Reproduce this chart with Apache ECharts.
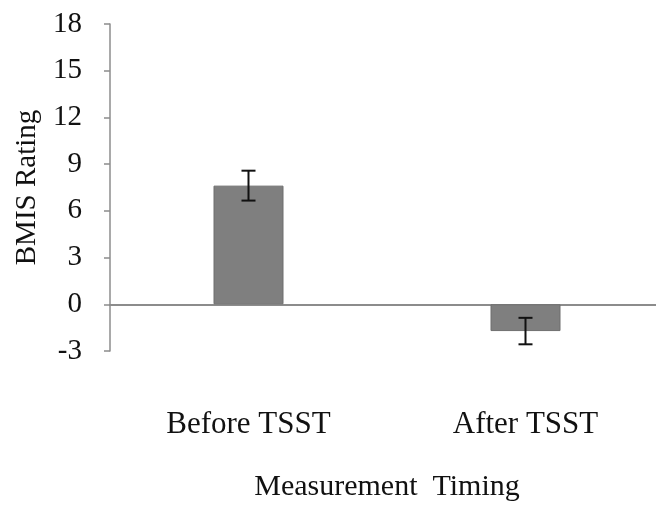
<!DOCTYPE html>
<html>
<head>
<meta charset="utf-8">
<style>html,body{margin:0;padding:0;background:#fff;}#c{width:656px;height:508px;}</style>
<script src="https://cdn.jsdelivr.net/npm/echarts@6/dist/echarts.min.js"></script>
</head>
<body>
<div id="c"></div>
<script>
var categories = ['Before TSST', 'After TSST'];
var means = [7.62, -1.72];
var errors = [0.96, 0.85];
var yTicks = [-3, 0, 3, 6, 9, 12, 15, 18];

var font = 'Liberation Serif, Times New Roman, serif';
var chart = echarts.init(document.getElementById('c'));
var errData = means.map(function (m, i) { return [i, m - errors[i], m + errors[i]]; });

chart.setOption({
  backgroundColor: '#ffffff',
  animation: false,
  grid: { left: 110, width: 554, top: 24, bottom: 157, containLabel: false, outerBoundsMode: 'none' },
  xAxis: [{
    type: 'category',
    data: categories,
    position: 'bottom',
    axisLine: { show: false, onZero: false },
    axisTick: { show: false },
    axisLabel: { margin: 58, fontFamily: font, fontSize: 31, color: '#111' },
    name: 'Measurement  Timing',
    nameLocation: 'middle',
    nameGap: 121,
    nameTextStyle: { fontFamily: font, fontSize: 30, color: '#111' }
  }, {
    type: 'category',
    data: categories,
    axisLine: { show: true, onZero: true, lineStyle: { color: '#8c8c8c', width: 2 } },
    axisTick: { show: false },
    axisLabel: { show: false }
  }],
  yAxis: {
    type: 'value',
    min: -3, max: 18, interval: 3,
    axisLine: { show: true, lineStyle: { color: '#8c8c8c', width: 1.5 } },
    axisTick: { show: true, length: 6, lineStyle: { color: '#8c8c8c', width: 1.5 } },
    splitLine: { show: false },
    axisLabel: { margin: 28, fontFamily: font, fontSize: 29, color: '#111',
      formatter: function (v) { return yTicks.indexOf(v) >= 0 ? String(v) : ''; } },
    name: 'BMIS Rating',
    nameLocation: 'middle',
    nameGap: 68,
    nameTextStyle: { fontFamily: font, fontSize: 29, color: '#111' }
  },
  series: [{
    type: 'bar',
    xAxisIndex: 0,
    data: means,
    barWidth: 70,
    itemStyle: { color: '#7f7f7f', borderColor: '#6f6f6f', borderWidth: 1 }
  }, {
    type: 'custom',
    xAxisIndex: 0,
    data: errData,
    z: 10,
    renderItem: function (params, api) {
      var lo = api.coord([api.value(0), api.value(1)]);
      var hi = api.coord([api.value(0), api.value(2)]);
      var hw = 7;
      var st = { stroke: '#111', lineWidth: 2 };
      return { type: 'group', children: [
        { type: 'line', shape: { x1: hi[0], y1: hi[1], x2: lo[0], y2: lo[1] }, style: st },
        { type: 'line', shape: { x1: hi[0] - hw, y1: hi[1], x2: hi[0] + hw, y2: hi[1] }, style: st },
        { type: 'line', shape: { x1: lo[0] - hw, y1: lo[1], x2: lo[0] + hw, y2: lo[1] }, style: st }
      ]};
    }
  }]
});
</script>
</body>
</html>
